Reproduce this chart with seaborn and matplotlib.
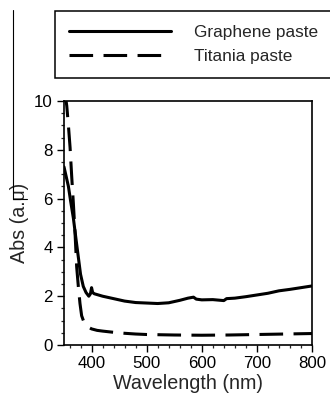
import matplotlib
matplotlib.use('Agg')
import matplotlib.pyplot as plt
import seaborn as sns
import pandas as pd
from matplotlib.lines import Line2D
from matplotlib.ticker import MultipleLocator

# Absorbance spectra
graphene_wl = [350, 354, 358, 362, 367, 372, 376, 380, 385, 390, 395, 398, 400, 402,
               405, 420, 440, 460, 480, 500, 520, 540, 560, 575, 585, 590, 600, 620,
               640, 645, 660, 680, 700, 720, 740, 760, 780, 800]
graphene_abs = [7.3, 6.9, 6.5, 5.9, 5.2, 4.3, 3.6, 2.9, 2.4, 2.15, 2.0, 2.1, 2.35, 2.15,
                2.1, 2.0, 1.9, 1.8, 1.74, 1.72, 1.7, 1.73, 1.83, 1.92, 1.96, 1.88, 1.85, 1.86,
                1.82, 1.9, 1.92, 1.98, 2.05, 2.12, 2.22, 2.28, 2.35, 2.42]

titania_wl = [352, 355, 358, 361, 364, 367, 370, 373, 376, 379, 382, 386, 390, 395,
              400, 410, 420, 440, 460, 480, 500, 550, 600, 650, 700, 750, 800]
titania_abs = [10.3, 9.8, 9.0, 8.1, 6.9, 5.8, 4.6, 3.2, 2.4, 1.7, 1.2, 0.95, 0.8, 0.72,
               0.66, 0.6, 0.57, 0.52, 0.48, 0.45, 0.43, 0.41, 0.40, 0.41, 0.43, 0.45, 0.47]

series_labels = ['Graphene paste', 'Titania paste']

sns.set_style('ticks')
plt.rcParams['font.family'] = ['Liberation Sans', 'DejaVu Sans']
plt.rcParams['lines.scale_dashes'] = False

W, H = 330, 403
fig = plt.figure(figsize=(W / 100, H / 100), dpi=100)
ax = fig.add_axes([64 / W, 1 - 345 / H, 248 / W, 244 / H])

df_g = pd.DataFrame({'wl': graphene_wl, 'abs': graphene_abs})
df_t = pd.DataFrame({'wl': titania_wl, 'abs': titania_abs})

sns.lineplot(data=df_g, x='wl', y='abs', ax=ax, color='black', linewidth=2.2,
             label=series_labels[0], sort=False)
sns.lineplot(data=df_t, x='wl', y='abs', ax=ax, color='black', linewidth=2.2,
             linestyle=(0, (17, 7.5)), label=series_labels[1], sort=False)

ax.set_xlim(350, 800)
ax.set_ylim(0, 10)
ax.xaxis.set_major_locator(MultipleLocator(100))
ax.xaxis.set_minor_locator(MultipleLocator(20))
ax.yaxis.set_major_locator(MultipleLocator(2))
ax.yaxis.set_minor_locator(MultipleLocator(0.5))
ax.set_xticks([400, 500, 600, 700, 800])
ax.tick_params(which='major', length=5, width=1, labelsize=12.2, colors='black', pad=3)
ax.tick_params(which='minor', length=2.5, width=0.9)
for sp in ax.spines.values():
    sp.set_visible(True)
    sp.set_linewidth(1.2)
    sp.set_color('black')

ax.set_xlabel('Wavelength (nm)', fontsize=14.2, labelpad=2)
ax.set_ylabel('Abs (a.u)', fontsize=14.2, labelpad=4)

leg = ax.legend(loc='upper left', bbox_to_anchor=(55 / W, 1 - 11 / H, 1.0, 0.0),
                bbox_transform=fig.transFigure, mode='expand', fontsize=12.4,
                handlelength=5.9, handletextpad=1.35, labelspacing=0.5,
                borderpad=0.82, borderaxespad=0, fancybox=False, framealpha=1)
leg.get_frame().set_edgecolor('black')
leg.get_frame().set_linewidth(1.1)

# thin crop line at the left edge of the source figure
fig.add_artist(Line2D([12.5 / W, 12.5 / W], [1 - 10 / H, 1 - 199 / H],
                      color='black', linewidth=0.8))
fig.add_artist(Line2D([12.5 / W, 27 / W], [1 - 199 / H, 1 - 199 / H],
                      color='black', linewidth=0.8))

fig.savefig('out.png', dpi=100)
